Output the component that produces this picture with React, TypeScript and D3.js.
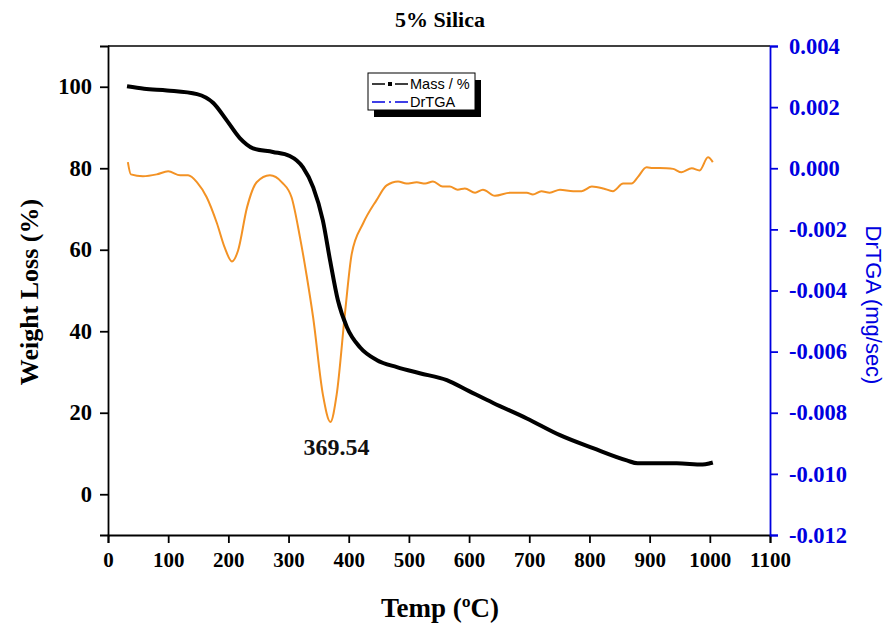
import React, { useEffect, useRef } from "react";
import * as d3 from "d3";

const massTemp = [31.6, 60, 98, 148, 175, 197, 219, 241, 274, 302, 324, 341, 357, 369, 382, 397, 419, 447, 480, 518, 563, 600, 640, 696, 751, 806, 862, 880, 945, 988, 1000, 1005];
const massValue = [100.1, 99.5, 99.1, 98.2, 96, 91.8, 87.4, 84.9, 84, 83, 80.2, 75.3, 67.2, 57.4, 47.6, 41, 36, 32.9, 31.2, 29.7, 28, 25.3, 22.4, 18.6, 14.5, 11.3, 8.3, 7.6, 7.6, 7.3, 7.6, 7.8];

const dtgTemp = [33, 38, 58, 81, 100, 120, 133, 148, 164, 181, 194, 206, 216, 231, 247, 269, 289, 305, 319, 330, 341, 357, 369.5, 380, 394, 405, 424, 446, 463, 482, 496, 513, 527, 540, 556, 568, 581, 593, 610, 623, 643, 668, 696, 706, 720, 734, 751, 773, 787, 804, 823, 839, 856, 870, 880, 895, 905, 928, 939, 953, 970, 983, 997, 1005];
const dtgValue = [0.0002, -0.0002, -0.00026, -0.0002, -0.0001, -0.00023, -0.00023, -0.00046, -0.00095, -0.0018, -0.0026, -0.00305, -0.0027, -0.00128, -0.00046, -0.00023, -0.00046, -0.00095, -0.00226, -0.0035, -0.0049, -0.0074, -0.0083, -0.0074, -0.0047, -0.0028, -0.0018, -0.00105, -0.00056, -0.00043, -0.0005, -0.00046, -0.0005, -0.00043, -0.0006, -0.0006, -0.0007, -0.00066, -0.0008, -0.0007, -0.0009, -0.0008, -0.0008, -0.00086, -0.00075, -0.0008, -0.0007, -0.00075, -0.00075, -0.0006, -0.00066, -0.00075, -0.0005, -0.0005, -0.0003, 0.00003, 0.00001, 0.0, -0.00002, -0.00013, 0.0, -0.00007, 0.00036, 0.0002];

const xTicks = [0, 100, 200, 300, 400, 500, 600, 700, 800, 900, 1000, 1100];
const yLeftTicks = [0, 20, 40, 60, 80, 100];
const yRightTicks = [-0.012, -0.01, -0.008, -0.006, -0.004, -0.002, 0, 0.002, 0.004];

const peakTemp = 369.54;
const peakValue = -0.0083;

const SERIF = "'Liberation Serif', 'Times New Roman', serif";
const SANS = "'Liberation Sans', Arial, sans-serif";
const BLUE = "#0000e0";
const ORANGE = "#f39224";

export default function App() {
  const ref = useRef<SVGSVGElement | null>(null);

  useEffect(() => {
    const svg = d3.select(ref.current);
    svg.selectAll("*").remove();

    const L = 108, R = 770, T = 46, B = 535;
    const x = d3.scaleLinear().domain([0, 1100]).range([L, R]);
    const yL = d3.scaleLinear().domain([-10, 110]).range([B, T]);
    const yR = d3.scaleLinear().domain([-0.012, 0.004]).range([B, T]);

    // top frame
    svg.append("line").attr("x1", L).attr("x2", R).attr("y1", T).attr("y2", T)
      .attr("stroke", "#000").attr("stroke-width", 1.5);

    // bottom axis
    const gx = svg.append("g").attr("transform", `translate(0,${B})`);
    gx.call(d3.axisBottom(x).tickValues(d3.range(50, 1100, 100)).tickSize(4).tickFormat(() => ""));
    gx.call(d3.axisBottom(x).tickValues(xTicks).tickSize(8).tickPadding(9).tickFormat(d3.format("d")));
    gx.selectAll("path").attr("stroke", "#000").attr("stroke-width", 1.8);
    gx.selectAll("line").attr("stroke", "#000").attr("stroke-width", 1.8);
    gx.selectAll("text").attr("font-family", SERIF).attr("font-weight", "bold").attr("font-size", 21).attr("fill", "#000");

    // left axis
    const gy = svg.append("g").attr("transform", `translate(${L},0)`);
    gy.call(d3.axisLeft(yL).tickValues(d3.range(-10, 110, 20)).tickSize(5).tickFormat(() => ""));
    gy.call(d3.axisLeft(yL).tickValues(yLeftTicks).tickSize(8).tickPadding(8).tickFormat(d3.format("d")));
    gy.selectAll("path").attr("stroke", "#000").attr("stroke-width", 1.8);
    gy.selectAll("line").attr("stroke", "#000").attr("stroke-width", 1.8);
    gy.selectAll("text").attr("font-family", SERIF).attr("font-weight", "bold").attr("font-size", 22.5).attr("fill", "#000");

    // right axis
    const gr = svg.append("g").attr("transform", `translate(${R},0)`);
    gr.call(d3.axisRight(yR).tickValues(d3.range(-0.011, 0.004, 0.002)).tickSize(5).tickFormat(() => ""));
    gr.call(d3.axisRight(yR).tickValues(yRightTicks).tickSize(8).tickPadding(11).tickFormat(d3.format(".3f")));
    gr.selectAll("path").attr("stroke", BLUE).attr("stroke-width", 1.8);
    gr.selectAll("line").attr("stroke", BLUE).attr("stroke-width", 1.8);
    gr.selectAll("text").attr("font-family", SERIF).attr("font-weight", "bold").attr("font-size", 22.5).attr("fill", BLUE)
      .text((d: any) => d3.format(".3f")(d).replace("−", "-"));

    // DrTGA line
    const dtg = dtgTemp.map((t, i) => [t, dtgValue[i]] as [number, number]);
    svg.append("path").datum(dtg)
      .attr("d", d3.line<[number, number]>().x(d => x(d[0])).y(d => yR(d[1])).curve(d3.curveMonotoneX))
      .attr("fill", "none").attr("stroke", ORANGE).attr("stroke-width", 2);

    // Mass line
    const mass = massTemp.map((t, i) => [t, massValue[i]] as [number, number]);
    svg.append("path").datum(mass)
      .attr("d", d3.line<[number, number]>().x(d => x(d[0])).y(d => yL(d[1])).curve(d3.curveMonotoneX))
      .attr("fill", "none").attr("stroke", "#000").attr("stroke-width", 4).attr("stroke-linejoin", "round");

    // peak label
    svg.append("text").attr("x", x(peakTemp) + 6).attr("y", yR(peakValue) + 33)
      .attr("text-anchor", "middle").attr("font-family", SERIF).attr("font-weight", "bold")
      .attr("font-size", 24).attr("fill", "#111").text("369.54");

    // titles
    svg.append("text").attr("x", 440).attr("y", 27).attr("text-anchor", "middle")
      .attr("font-family", SERIF).attr("font-weight", "bold").attr("font-size", 22).text("5% Silica");
    svg.append("text").attr("x", 440).attr("y", 617).attr("text-anchor", "middle")
      .attr("font-family", SERIF).attr("font-weight", "bold").attr("font-size", 27).text("Temp (ºC)");
    svg.append("text").attr("transform", `translate(38,292) rotate(-90)`).attr("text-anchor", "middle")
      .attr("font-family", SERIF).attr("font-weight", "bold").attr("font-size", 26).text("Weight Loss (%)");
    svg.append("text").attr("transform", `translate(866,305) rotate(90)`).attr("text-anchor", "middle")
      .attr("font-family", SANS).attr("font-size", 22).attr("fill", BLUE).text("DrTGA (mg/sec)");

    // legend
    const lg = svg.append("g");
    lg.append("rect").attr("x", 374).attr("y", 80).attr("width", 107).attr("height", 37).attr("fill", "#000");
    lg.append("rect").attr("x", 368).attr("y", 73).attr("width", 107).attr("height", 37)
      .attr("fill", "#fff").attr("stroke", "#000").attr("stroke-width", 1);
    lg.append("line").attr("x1", 372).attr("x2", 408).attr("y1", 84).attr("y2", 84)
      .attr("stroke", "#000").attr("stroke-width", 1.3).attr("stroke-dasharray", "13,10,13");
    lg.append("rect").attr("x", 388).attr("y", 82).attr("width", 4).attr("height", 4).attr("fill", "#000");
    lg.append("text").attr("x", 410).attr("y", 89).attr("font-family", SANS).attr("font-size", 14.5).text("Mass / %");
    lg.append("line").attr("x1", 372).attr("x2", 408).attr("y1", 102).attr("y2", 102)
      .attr("stroke", BLUE).attr("stroke-width", 1.5).attr("stroke-dasharray", "13,4,2,4,13");
    lg.append("text").attr("x", 410).attr("y", 107).attr("font-family", SANS).attr("font-size", 14.5).text("DrTGA");
  }, []);

  return (
    <svg ref={ref} width={888} height={628} style={{ position: "absolute", left: 0, top: 0, background: "#fff" }} />
  );
}
